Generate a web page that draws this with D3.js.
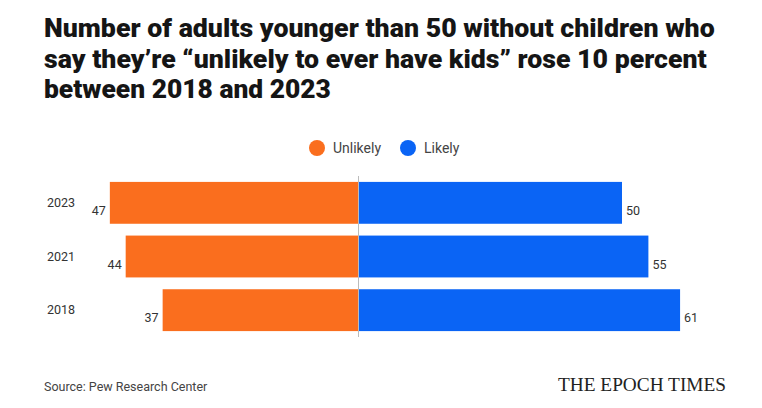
<!DOCTYPE html>
<html>
<head>
<meta charset="utf-8">
<script src="https://cdn.jsdelivr.net/npm/d3@7"></script>
<style>
  body { margin: 0; background: #fff; }
  svg { display: block; }
</style>
</head>
<body>
<div id="chart"></div>
<script>
// data
const years = ["2023", "2021", "2018"];
const unlikely = [47, 44, 37];
const likely = [50, 55, 61];
const seriesNames = ["Unlikely", "Likely"];
const colors = ["#fa6e1e", "#0a64f5"];

const width = 762, height = 408;
const centerX = 358;
const pxPerUnit = 5.28;

const svg = d3.select("#chart")
    .append("svg")
    .attr("width", width)
    .attr("height", height);

// title: each line squeezed horizontally to the width it has in the picture
const titleLines = [
    ["Number of adults younger than 50 without children who", 37, 671],
    ["say they\u2019re \u201cunlikely to ever have kids\u201d rose 10 percent", 68, 663],
    ["between 2018 and 2023", 98, 287]
];
titleLines.forEach(l => {
    const g = svg.append("g");
    const t = g.append("text")
        .attr("font-family", "Roboto, 'DejaVu Sans', sans-serif")
        .attr("font-weight", 900)
        .attr("font-size", 26)
        .attr("fill", "#151515")
        .text(l[0]);
    const natural = t.node().getComputedTextLength();
    g.attr("transform", `translate(44,${l[1]}) scale(${l[2] / natural},1)`);
});

// legend
const legend = svg.append("g").attr("font-family", "Roboto, sans-serif").attr("font-size", 14);
const legendX = [317, 408];
seriesNames.forEach((s, i) => {
    legend.append("circle")
        .attr("cx", legendX[i])
        .attr("cy", 148)
        .attr("r", 8)
        .attr("fill", colors[i]);
    legend.append("text")
        .attr("x", legendX[i] + 16)
        .attr("y", 153)
        .attr("fill", "#444")
        .text(s);
});

// scales
const y = d3.scaleBand()
    .domain(years)
    .range([176, 337])
    .paddingInner(0.22)
    .paddingOuter(0.11);

const xLeft = d3.scaleLinear().domain([0, 100]).range([centerX, centerX - 100 * pxPerUnit]);
const xRight = d3.scaleLinear().domain([0, 100]).range([centerX, centerX + 100 * pxPerUnit]);

// bars
const g = svg.append("g");
g.selectAll(".bar-unlikely")
    .data(years)
    .enter()
    .append("rect")
    .attr("class", "bar-unlikely")
    .attr("x", (d, i) => xLeft(unlikely[i]))
    .attr("y", d => y(d))
    .attr("width", (d, i) => xLeft(0) - xLeft(unlikely[i]))
    .attr("height", y.bandwidth())
    .attr("fill", colors[0]);

g.selectAll(".bar-likely")
    .data(years)
    .enter()
    .append("rect")
    .attr("class", "bar-likely")
    .attr("x", xRight(0))
    .attr("y", d => y(d))
    .attr("width", (d, i) => xRight(likely[i]) - xRight(0))
    .attr("height", y.bandwidth())
    .attr("fill", colors[1]);

// center line
svg.append("line")
    .attr("x1", centerX + 0.5).attr("x2", centerX + 0.5)
    .attr("y1", 176).attr("y2", 337)
    .attr("stroke", "#bbb")
    .attr("stroke-width", 1);

// year labels
svg.selectAll(".year")
    .data(years)
    .enter()
    .append("text")
    .attr("class", "year")
    .attr("x", 75)
    .attr("y", d => y(d) + y.bandwidth() / 2 + 4)
    .attr("text-anchor", "end")
    .attr("font-family", "Roboto, sans-serif")
    .attr("font-size", 12.5)
    .attr("fill", "#333")
    .text(d => d);

// value labels
svg.selectAll(".val-left")
    .data(years)
    .enter()
    .append("text")
    .attr("x", (d, i) => xLeft(unlikely[i]) - 4)
    .attr("y", d => y(d) + y.bandwidth() / 2 + 12)
    .attr("text-anchor", "end")
    .attr("font-family", "Roboto, sans-serif")
    .attr("font-size", 12.5)
    .attr("fill", "#333")
    .text((d, i) => unlikely[i]);

svg.selectAll(".val-right")
    .data(years)
    .enter()
    .append("text")
    .attr("x", (d, i) => xRight(likely[i]) + 4)
    .attr("y", d => y(d) + y.bandwidth() / 2 + 12)
    .attr("font-family", "Roboto, sans-serif")
    .attr("font-size", 12.5)
    .attr("fill", "#333")
    .text((d, i) => likely[i]);

// footer
svg.append("text")
    .attr("x", 44)
    .attr("y", 391)
    .attr("font-family", "Roboto, sans-serif")
    .attr("font-size", 12.5)
    .attr("fill", "#444")
    .text("Source: Pew Research Center");

svg.append("text")
    .attr("x", 558)
    .attr("y", 391)
    .attr("font-family", "'Liberation Serif', 'DejaVu Serif', serif")
    .attr("font-size", 18)
    .attr("fill", "#222")
    .attr("textLength", 168)
    .attr("lengthAdjust", "spacingAndGlyphs")
    .text("THE EPOCH TIMES");
</script>
</body>
</html>
